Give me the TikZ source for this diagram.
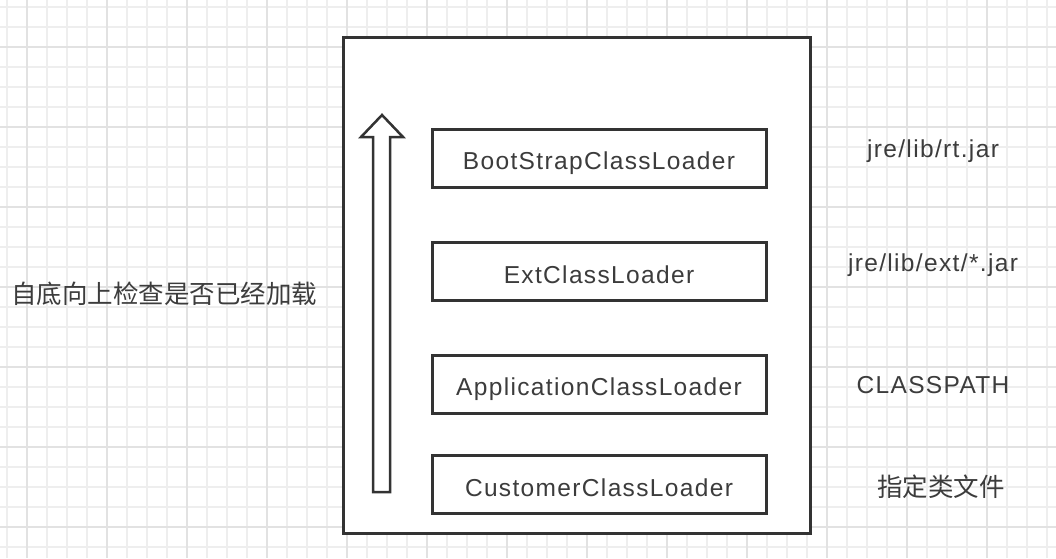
\documentclass[tikz,border=0pt]{standalone}
\usepackage{fontspec}
\setmainfont{Liberation Sans}[LetterSpace=5.5]
\newfontfamily\cjk{Noto Sans CJK SC}
\usetikzlibrary{positioning}
\definecolor{gridminor}{HTML}{EEEEEE}
\definecolor{gridmajor}{HTML}{E2E2E2}
\definecolor{ink}{HTML}{333333}
\definecolor{txt}{HTML}{3C3C3C}
\tikzset{
  loader/.style={rectangle, draw=ink, line width=3pt, fill=white, minimum width=334pt, minimum height=58pt, inner sep=0pt, text height=23.5pt, text depth=0pt, text=txt, font=\fontsize{24.5}{28}\selectfont},
  path label/.style={text=txt, inner sep=0pt, font=\fontsize{24.5}{28}\selectfont},
  cjk label/.style={text=txt, inner sep=0pt, font=\cjk\fontsize{25.5}{30}\selectfont}
}

\begin{document}
\begin{tikzpicture}[x=1pt,y=-1pt]
  \useasboundingbox (0,0) rectangle (1056,558);
  \fill[white] (0,0) rectangle (1056,558);
  % background grid
  \foreach \i in {0,...,52}
    \draw[gridminor, line width=1.5pt] (7+20*\i,0) -- (7+20*\i,558);
  \foreach \j in {0,...,27}
    \draw[gridminor, line width=1.5pt] (0,7+20*\j) -- (1056,7+20*\j);
  \foreach \i in {0,...,12}
    \draw[gridmajor, line width=1.5pt] (27+80*\i,0) -- (27+80*\i,558);
  \foreach \j in {0,...,6}
    \draw[gridmajor, line width=1.5pt] (0,47+80*\j) -- (1056,47+80*\j);

  % outer frame
  \node (frame) [draw=ink, line width=3pt, fill=white, minimum width=467pt, minimum height=496pt, inner sep=0pt] at (576.5,285) {};

  \node (boot) at (599,158) [loader] {BootStrapClassLoader};
  \node (ext) at (599,271.5) [loader] {ExtClassLoader};
  \node (app) at (599,384) [loader] {ApplicationClassLoader};
  \node (cust) at (599,484.5) [loader] {CustomerClassLoader};

  \node (rt) at (933,151) [path label] {jre/lib/rt.jar};
  \node (extjar) at (933,265) [path label] {jre/lib/ext/*.jar};
  \node (cp) at (933,385) [path label] {CLASSPATH};
  \node (spec) at (941,487) [cjk label] {指定类文件};

  \node (check) at (164,294) [cjk label] {自底向上检查是否已经加载};

  % hollow upward arrow
  \draw[ink, line width=2.5pt, line join=miter, fill=white]
    (373,492) -- (373,137) -- (361,137) -- (382,115) -- (403,137) -- (390,137) -- (390,492) -- cycle;
\end{tikzpicture}
\end{document}
